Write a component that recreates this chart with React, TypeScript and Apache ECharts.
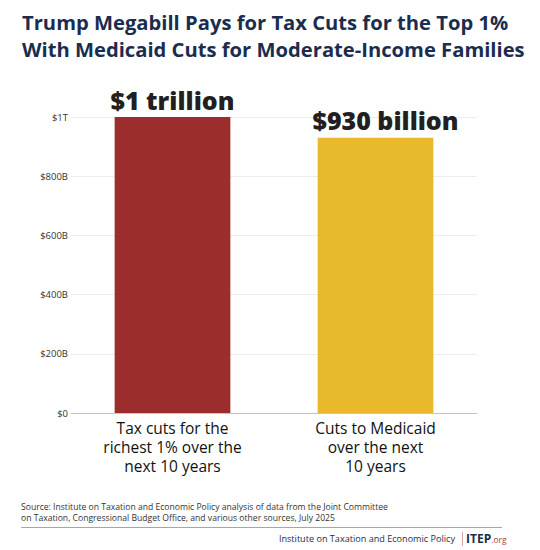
import React, { useEffect, useRef } from "react";
import * as echarts from "echarts";

const categories = [
  "Tax cuts for the\nrichest 1% over the\nnext 10 years",
  "Cuts to Medicaid\nover the next\n10 years",
];
const values = [1000, 930]; // billions of dollars
const valueLabels = ["$1 trillion", "$930 billion"];
const labelOffsets = [[0, 0], [10, 0]];
const barColors = ["#9b2d2d", "#e8b92a"];
const yTicks = [0, 200, 400, 600, 800, 1000];
const yTickLabels = ["$0", "$200B", "$400B", "$600B", "$800B", "$1T"];
const titleLines = [
  "Trump Megabill Pays for Tax Cuts for the Top 1%",
  "With Medicaid Cuts for Moderate-Income Families",
];
const sourceLines = [
  "Source: Institute on Taxation and Economic Policy analysis of data from the Joint Committee",
  "on Taxation, Congressional Budget Office, and various other sources, July 2025",
];

const NAVY = "#1b2d4f";
const FONT = "'Open Sans', 'Noto Sans', sans-serif";

export default function App() {
  const ref = useRef<HTMLDivElement>(null);
  useEffect(() => {
    document.body.style.margin = "0";
    const chart = echarts.init(ref.current!, null, { renderer: "svg" });
    chart.setOption({
      animation: false,
      backgroundColor: "#ffffff",
      grid: { left: 71, right: 63, top: 117, bottom: 137 },
      xAxis: {
        type: "category",
        data: categories,
        axisTick: { show: false },
        axisLine: { show: true, lineStyle: { color: "#c4c4c4", width: 1 } },
        axisLabel: {
          color: "#111111",
          fontSize: 15.5,
          lineHeight: 18.8,
          fontFamily: FONT,
          margin: 6,
          interval: 0,
        },
      },
      yAxis: {
        type: "value",
        min: yTicks[0],
        max: yTicks[yTicks.length - 1],
        interval: yTicks[1] - yTicks[0],
        axisLine: { show: false },
        axisTick: { show: false },
        splitLine: { lineStyle: { color: "#ececec", width: 1 } },
        axisLabel: {
          color: "#333333",
          fontSize: 9.5,
          fontFamily: FONT,
          margin: 3,
          formatter: (v: number) => yTickLabels[yTicks.indexOf(v)] ?? "",
        },
      },
      series: [
        {
          type: "bar",
          barWidth: "57%",
          data: values.map((v, i) => ({
            value: v,
            itemStyle: { color: barColors[i] },
            label: { offset: labelOffsets[i] },
          })),
          label: {
            show: true,
            position: "top",
            distance: 5,
            color: "#231f20",
            fontSize: 25,
            fontWeight: 800,
            fontFamily: FONT,
            formatter: (p: any) => valueLabels[p.dataIndex],
          },
        },
      ],
      graphic: [
        ...titleLines.map((t, i) => ({
          type: "text",
          left: 22,
          top: 12 + i * 27,
          style: {
            text: t,
            fill: NAVY,
            font: `bold 20.2px ${FONT}`,
          },
        })),
        ...sourceLines.map((t, i) => ({
          type: "text",
          left: 21,
          top: 502 + i * 11,
          style: { text: t, fill: "#333333", font: `8.6px ${FONT}` },
        })),
        {
          type: "line",
          shape: { x1: 21, y1: 527.5, x2: 502, y2: 527.5 },
          style: { stroke: "#9aa8b8", lineWidth: 1 },
        },
        {
          type: "text",
          right: 85,
          top: 534,
          style: { text: "Institute on Taxation and Economic Policy", fill: NAVY, font: `9.1px ${FONT}` },
        },
        {
          type: "line",
          shape: { x1: 462.5, y1: 532, x2: 462.5, y2: 546 },
          style: { stroke: "#d9a0a0", lineWidth: 1 },
        },
        {
          type: "text",
          left: 466,
          top: 532,
          style: {
            text: "{a|ITEP}{b|.org}",
            rich: {
              a: { fill: NAVY, font: `bold 12px ${FONT}` },
              b: { fill: "#b23a3a", font: `8.5px ${FONT}`, padding: [2, 0, 0, 0] },
            },
          },
        },
      ],
    });
    return () => chart.dispose();
  }, []);
  return <div ref={ref} style={{ width: 540, height: 550 }} />;
}
